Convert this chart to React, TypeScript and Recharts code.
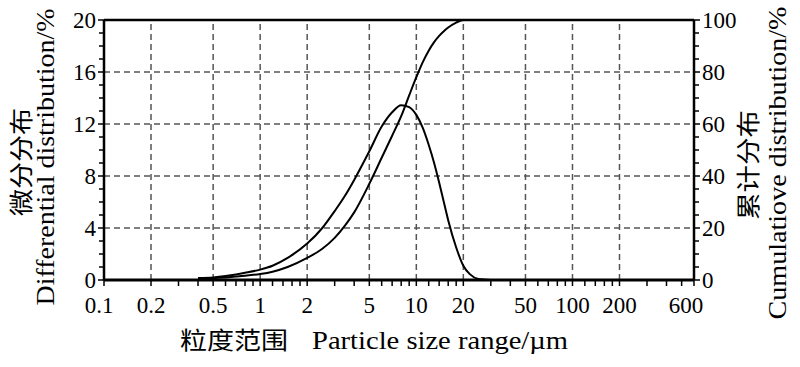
import React from 'react';
import { LineChart, Line, XAxis, YAxis, ReferenceLine } from 'recharts';

// particle size (µm) and the two distributions
const sizes = [0.4, 0.5, 0.6, 0.7, 0.8, 1.0, 1.2, 1.5, 2.0, 2.5, 3.0, 3.5, 4.0, 5.0, 6.0, 7.0, 8.0, 9.0, 10, 11, 12, 13, 14, 15, 16, 18, 20, 22, 25, 30];
const differential = [0.15, 0.2, 0.3, 0.42, 0.55, 0.8, 1.1, 1.7, 2.8, 4.0, 5.3, 6.5, 7.7, 9.9, 11.8, 12.9, 13.45, 13.3, 12.7, 11.7, 10.4, 9.0, 7.5, 6.0, 4.6, 2.5, 1.1, 0.45, 0.08, 0];
const cumulative = [0.3, 0.7, 1.0, 1.3, 1.6, 2.3, 3.2, 5.0, 8.5, 12.0, 16.2, 21.0, 26.0, 37.0, 47.0, 55.5, 63.0, 71.0, 78.0, 83.8, 88.2, 91.5, 93.9, 95.7, 97.1, 99.0, 100, 100, 100, 100];

const xMajorTicks = [0.1, 0.2, 0.5, 1, 2, 5, 10, 20, 50, 100, 200, 600];
const xMinorTicks = [0.3, 0.4, 0.6, 0.7, 0.8, 0.9, 1.2, 1.4, 1.6, 1.8, 3, 4, 6, 7, 8, 9, 12, 14, 16, 18, 30, 40, 60, 70, 80, 90, 120, 140, 160, 180, 300, 400, 500];
const xGridLines = [0.2, 0.5, 1, 2, 5, 10, 20, 50, 100, 200];

const leftMajorTicks = [0, 4, 8, 12, 16, 20];
const leftMinorTicks = [1, 2, 3, 5, 6, 7, 9, 10, 11, 13, 14, 15, 17, 18, 19];
const yGridLines = [4, 8, 12, 16];

const rightMajorTicks = [0, 20, 40, 60, 80, 100];
const rightMinorTicks = [5, 10, 15, 25, 30, 35, 45, 50, 55, 65, 70, 75, 85, 90, 95];

const data = sizes.map((s, i) => ({ size: s, diff: differential[i], cum: cumulative[i] }));

const serif = 'Liberation Serif, DejaVu Serif, serif';
const cjk = 'Noto Sans CJK SC, sans-serif';

// end labels sit a little to the left of their ticks in the original
const labelNudge: Record<string, number> = { '0.1': -5, '600': -8 };

const XTick = (props: any) => {
  const { x, y, payload } = props;
  const v = payload.value;
  const major = xMajorTicks.includes(v);
  const top = y - 8;
  return (
    <g>
      <line x1={x} y1={top} x2={x} y2={top + 6} stroke="#000" strokeWidth={1.5} />
      {major && (
        <text x={x + (labelNudge[String(v)] || 0)} y={top + 33} textAnchor="middle" style={{ fontFamily: serif, fontSize: 23 }} fill="#000">
          {String(v)}
        </text>
      )}
    </g>
  );
};

const LeftTick = (props: any) => {
  const { x, y, payload } = props;
  const v = payload.value;
  const major = leftMajorTicks.includes(v);
  const edge = x + 8;
  return (
    <g>
      <line x1={edge} y1={y} x2={edge - (major ? 6 : 5)} y2={y} stroke="#000" strokeWidth={1.5} />
      {major && (
        <text x={x} y={y + 8} textAnchor="end" style={{ fontFamily: serif, fontSize: 23 }} fill="#000">
          {v}
        </text>
      )}
    </g>
  );
};

const RightTick = (props: any) => {
  const { x, y, payload } = props;
  const v = payload.value;
  const major = rightMajorTicks.includes(v);
  const edge = x - 8;
  return (
    <g>
      <line x1={edge} y1={y} x2={edge + (major ? 6 : 5)} y2={y} stroke="#000" strokeWidth={1.5} />
      {major && (
        <text x={x} y={y + 8} textAnchor="start" style={{ fontFamily: serif, fontSize: 23 }} fill="#000">
          {v}
        </text>
      )}
    </g>
  );
};

export default function App() {
  const xTicks = [...xMajorTicks, ...xMinorTicks].sort((a, b) => a - b);
  const lTicks = [...leftMajorTicks, ...leftMinorTicks].sort((a, b) => a - b);
  const rTicks = [...rightMajorTicks, ...rightMinorTicks].sort((a, b) => a - b);

  return (
    <div style={{ position: 'absolute', left: 0, top: 0, width: 800, height: 367, background: '#fff' }}>
      <LineChart width={800} height={367} data={data} margin={{ top: 0, right: 0, bottom: 0, left: 0 }}>
        <XAxis
          dataKey="size"
          type="number"
          scale="log"
          domain={[0.1, 600]}
          ticks={xTicks}
          interval={0}
          height={87}
          tickSize={6}
          tickMargin={2}
          tickLine={false}
          tick={<XTick />}
          axisLine={{ stroke: '#000', strokeWidth: 3 }}
        />
        <XAxis
          xAxisId="top"
          orientation="top"
          type="number"
          scale="log"
          domain={[0.1, 600]}
          height={20}
          tick={false}
          tickLine={false}
          axisLine={{ stroke: '#000', strokeWidth: 2.5 }}
        />
        <YAxis
          yAxisId="left"
          domain={[0, 20]}
          ticks={lTicks}
          interval={0}
          width={104}
          tickSize={6}
          tickMargin={2}
          tickLine={false}
          tick={<LeftTick />}
          axisLine={{ stroke: '#000', strokeWidth: 2.5 }}
        />
        <YAxis
          yAxisId="right"
          orientation="right"
          domain={[0, 100]}
          ticks={rTicks}
          interval={0}
          width={106}
          tickSize={6}
          tickMargin={2}
          tickLine={false}
          tick={<RightTick />}
          axisLine={{ stroke: '#000', strokeWidth: 2.5 }}
        />
        {xGridLines.map((v) => (
          <ReferenceLine key={'gx' + v} x={v} yAxisId="left" stroke="#555" strokeWidth={1.5} strokeDasharray="6 4" />
        ))}
        {yGridLines.map((v) => (
          <ReferenceLine key={'gy' + v} y={v} yAxisId="left" stroke="#555" strokeWidth={1.5} strokeDasharray="6 4" />
        ))}
        <Line
          yAxisId="left"
          dataKey="diff"
          type="monotone"
          stroke="#000"
          strokeWidth={2}
          dot={false}
          isAnimationActive={false}
        />
        <Line
          yAxisId="right"
          dataKey="cum"
          type="monotone"
          stroke="#000"
          strokeWidth={2}
          dot={false}
          isAnimationActive={false}
        />
      </LineChart>
      <svg width={800} height={367} style={{ position: 'absolute', left: 0, top: 0, pointerEvents: 'none' }}>
        <text transform="translate(30,162) rotate(-90)" textAnchor="middle" style={{ fontFamily: cjk, fontSize: 24 }} textLength={108} lengthAdjust="spacingAndGlyphs" fill="#000">
          微分分布
        </text>
        <text transform="translate(54,157) rotate(-90)" textAnchor="middle" style={{ fontFamily: serif, fontSize: 26 }} textLength={297} lengthAdjust="spacingAndGlyphs" fill="#000">
          Differential distribution/%
        </text>
        <text transform="translate(757,165) rotate(-90)" textAnchor="middle" style={{ fontFamily: cjk, fontSize: 24 }} textLength={110} lengthAdjust="spacingAndGlyphs" fill="#000">
          累计分布
        </text>
        <text transform="translate(786,163) rotate(-90)" textAnchor="middle" style={{ fontFamily: serif, fontSize: 26 }} textLength={313} lengthAdjust="spacingAndGlyphs" fill="#000">
          Cumulatiove distribution/%
        </text>
        <text x={234} y={349} textAnchor="middle" style={{ fontFamily: cjk, fontSize: 24 }} textLength={108} lengthAdjust="spacingAndGlyphs" fill="#000">
          粒度范围
        </text>
        <text x={440} y={349} textAnchor="middle" style={{ fontFamily: serif, fontSize: 25 }} textLength={256} lengthAdjust="spacingAndGlyphs" fill="#000">
          Particle size range/µm
        </text>
      </svg>
    </div>
  );
}
